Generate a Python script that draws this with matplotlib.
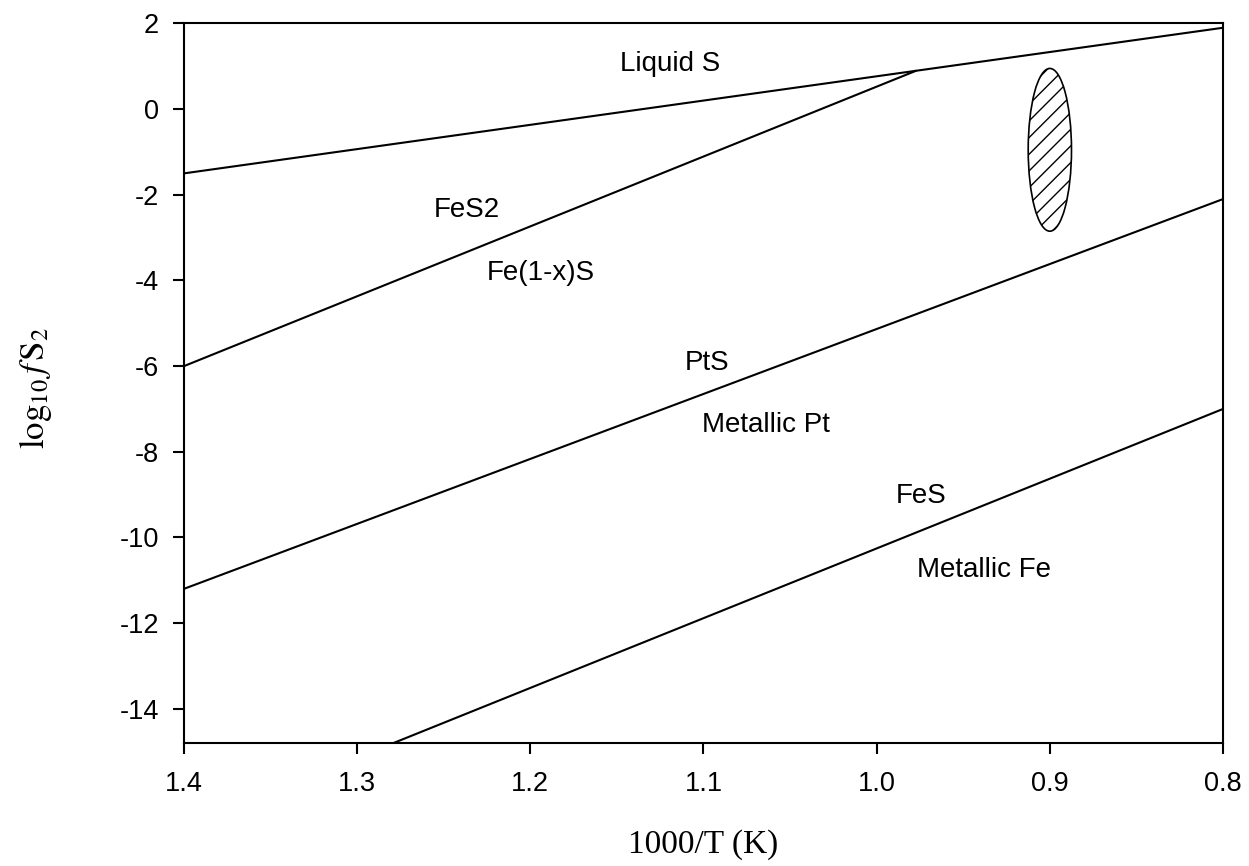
import matplotlib
matplotlib.use("Agg")
import matplotlib.pyplot as plt
from matplotlib.patches import Ellipse

plt.rcParams['font.family'] = ['Liberation Sans', 'DejaVu Sans']
plt.rcParams['mathtext.fontset'] = 'stix'
plt.rcParams['hatch.linewidth'] = 1.0

# Boundary lines (x = 1000/T, y = log10 fS2)
liquid_x = [1.4, 0.8]
liquid_y = [-1.5, 1.9]
fes2_x = [1.4, 0.977]
fes2_y = [-6.0, 0.9]
pts_x = [1.4, 0.8]
pts_y = [-11.2, -2.1]
fes_x = [1.4, 0.8]
fes_y = [-16.77, -7.0]

# Hatched field (ellipse)
ell_center = (0.9, -0.95)
ell_width = 0.025
ell_height = 3.8

# Region labels: (text, x, y)
labels = [
    ("Liquid S", 1.148, 1.05),
    ("FeS2", 1.256, -2.36),
    ("Fe(1-x)S", 1.225, -3.83),
    ("PtS", 1.111, -5.93),
    ("Metallic Pt", 1.101, -7.38),
    ("FeS", 0.989, -9.04),
    ("Metallic Fe", 0.977, -10.77),
]

xticks = [1.4, 1.3, 1.2, 1.1, 1.0, 0.9, 0.8]
xticklabels = ["1.4", "1.3", "1.2", "1.1", "1.0", "0.9", "0.8"]
yticks = [2, 0, -2, -4, -6, -8, -10, -12, -14]
yticklabels = ["2", "0", "-2", "-4", "-6", "-8", "-10", "-12", "-14"]

fig = plt.figure(figsize=(12.49, 8.66), dpi=100)
ax = fig.add_axes([0.1473, 0.142, 0.8319, 0.8309])

lw = 1.5
for xs, ys in [(liquid_x, liquid_y), (fes2_x, fes2_y), (pts_x, pts_y), (fes_x, fes_y)]:
    ax.plot(xs, ys, color='black', lw=lw, solid_capstyle='butt')

ell = Ellipse(ell_center, ell_width, ell_height, facecolor='white',
              edgecolor='black', lw=1.2, hatch='//')
ax.add_patch(ell)

for txt, x, y in labels:
    ax.text(x, y, txt, fontsize=20, ha='left', va='center')

ax.set_xlim(1.4, 0.8)
ax.set_ylim(-14.8, 2)
ax.set_xticks(xticks)
ax.set_xticklabels(xticklabels)
ax.set_yticks(yticks)
ax.set_yticklabels(yticklabels)
ax.tick_params(axis='both', direction='out', length=8, width=1.5, labelsize=19.5)
ax.tick_params(axis='y', pad=10)
ax.tick_params(axis='x', pad=12)
for s in ax.spines.values():
    s.set_linewidth(1.5)

ax.set_xlabel("1000/T (K)", fontsize=24, family=['Liberation Serif'])
ax.set_ylabel(r"$\mathrm{log}_{10}\,f\,\mathrm{S}_2$", fontsize=25)
ax.xaxis.set_label_coords(0.500, -0.120)
ax.yaxis.set_label_coords(-0.125, 0.493)

fig.savefig("out.png", dpi=100)
